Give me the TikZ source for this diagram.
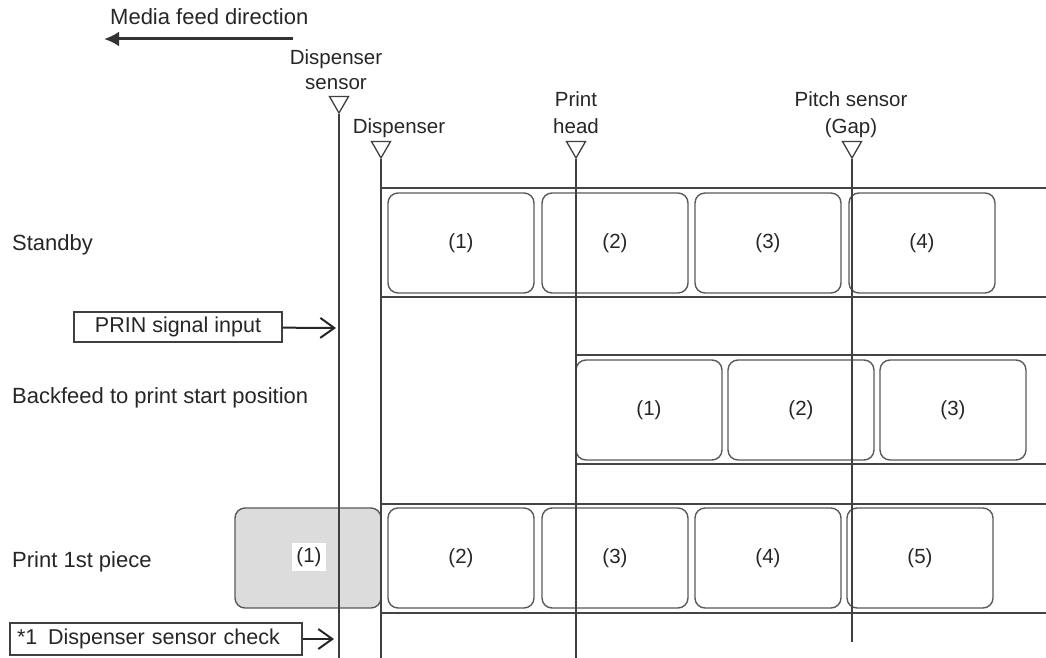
\documentclass[tikz,border=0pt]{standalone}
\usepackage{fontspec}
\setmainfont{Liberation Sans}
\usetikzlibrary{arrows.meta,positioning,shapes.geometric}

\definecolor{tapegray}{HTML}{444444}
\definecolor{piecefill}{HTML}{DCDCDC}

\begin{document}
\begin{tikzpicture}[
  x=1pt, y=-1pt,
  every node/.style={text=black!85},
  lbl/.style={align=center, inner sep=0pt, font=\fontsize{20.5}{25}\selectfont},
  rowlbl/.style={anchor=base west, inner sep=0pt, font=\fontsize{22}{26}\selectfont},
  piece/.style={draw=black!65, line width=1.4pt, rounded corners=10pt, minimum width=146pt, minimum height=100pt, font=\fontsize{20.5}{24}\selectfont},
  sensormark/.style={draw=black!75, line width=1.3pt, regular polygon, regular polygon sides=3, shape border rotate=180, minimum size=22pt, inner sep=0pt},
  sigbox/.style={draw=black!75, line width=1.3pt, minimum height=30pt, inner sep=0pt, font=\fontsize{21.5}{24}\selectfont},
  sensorline/.style={draw=black!75, line width=1.4pt},
  tape/.style={draw=tapegray, line width=1.6pt},
  sigarrow/.style={-{Straight Barb[length=14pt, width=20pt, line width=2pt]}, line width=2pt, black!85},
  feedarrow/.style={-{Latex[length=15pt, width=15pt]}, line width=3pt, black!80}
]
\useasboundingbox (0,0) rectangle (1046,658);

% media feed direction
\node[anchor=base west, inner sep=0pt, font=\fontsize{22}{26}\selectfont] (feedtxt) at (110,25) {Media feed direction};
\coordinate (feedstart) at (293,39);
\coordinate (feedend) at (104,39);
\draw[feedarrow] (feedstart) -- (feedend);

% tape edges
\draw[tape] (381,188) -- (1046,188) (381,297) -- (1046,297);
\draw[tape] (576,355) -- (1046,355) (576,464) -- (1046,464);
\draw[tape] (381,504) -- (1046,504) (381,613) -- (1046,613);

% row labels
\node[rowlbl] (standby) at (12,250) {Standby};
\node[rowlbl] (backfeed) at (12,403) {Backfeed to print start position};
\node[rowlbl] (print1) at (12,567) {Print 1st piece};

% standby pieces
\node[piece] (sb1) at (461,243) {(1)};
\node[piece] (sb2) at (615,243) {(2)};
\node[piece] (sb3) at (768,243) {(3)};
\node[piece] (sb4) at (922,243) {(4)};

% backfeed pieces
\node[piece] (bf1) at (649,410) {(1)};
\node[piece] (bf2) at (801,410) {(2)};
\node[piece] (bf3) at (953,410) {(3)};

% print 1st piece
\node[piece, fill=piecefill] (pr1) at (308,558) {};
\node[piece] (pr2) at (461,558) {(2)};
\node[piece] (pr3) at (615,558) {(3)};
\node[piece] (pr4) at (768,558) {(4)};
\node[piece] (pr5) at (920,558) {(5)};

% sensors
\coordinate (floor) at (0,658);
\coordinate (pitchend) at (852,642);
\node[sensormark] (dsmark) at (339,102) {};
\node[sensormark] (dmark) at (381,147) {};
\node[sensormark] (phmark) at (576,147) {};
\node[sensormark] (psmark) at (852,147) {};

\draw[sensorline] (dsmark.corner 1) -- (dsmark.corner 1 |- floor);
\draw[sensorline] (dmark.corner 1) -- (dmark.corner 1 |- floor);
\draw[sensorline] (phmark.corner 1) -- (phmark.corner 1 |- floor);
\draw[sensorline] (psmark.corner 1) -- (pitchend);

\node[lbl, anchor=base] (dslbl) at (336,90) {Dispenser\\sensor};
\node[lbl, anchor=base] (dlbl) at (399,133) {Dispenser};
\node[lbl, anchor=base, font=\fontsize{20.5}{27}\selectfont] (phlbl) at (576,133) {Print\\head};
\node[lbl, anchor=base, font=\fontsize{20.5}{27}\selectfont] (pslbl) at (851,133) {Pitch sensor\\(Gap)};

\node[fill=white, inner sep=4pt, font=\fontsize{20.5}{24}\selectfont] (pr1num) at (309,557) {(1)};

% signals
\node[sigbox, minimum width=208pt] (prin) at (178,327) {PRIN signal input};
\coordinate (prinend) at (336,328);
\draw[sigarrow] (prin) -- (prinend);

\node[sigbox, text width=278pt, align=left, inner xsep=7pt, minimum height=32pt] (dscheck) at (156,639) {*1\hspace{0.5em}Dispenser sensor check};
\coordinate (checkend) at (334,639);
\draw[sigarrow] (dscheck) -- (checkend);
\end{tikzpicture}
\end{document}
